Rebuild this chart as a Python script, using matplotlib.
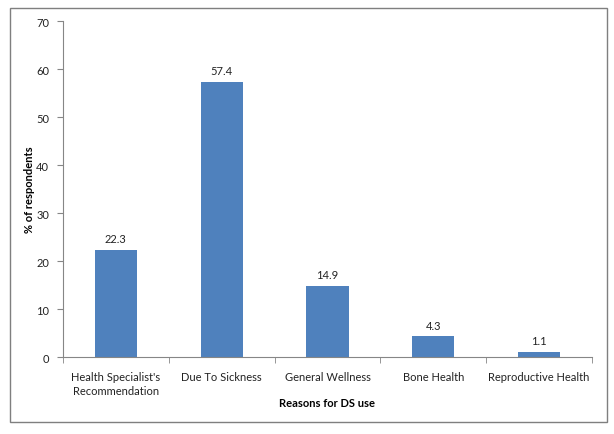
import matplotlib.pyplot as plt
from matplotlib.patches import Rectangle

# data
reasons = ["Health Specialist's\nRecommendation", "Due To Sickness", "General Wellness",
           "Bone Health", "Reproductive Health"]
percent = [22.3, 57.4, 14.9, 4.3, 1.1]

plt.rcParams['font.family'] = ['Lato', 'DejaVu Sans']
axis_col = '#868686'
fs = 8

fig = plt.figure(figsize=(6.14, 4.35), dpi=100)
fig.patches.append(Rectangle((0.0163, 0.0276), 0.972, 0.952, transform=fig.transFigure,
                             fill=False, edgecolor='#7f7f7f', linewidth=1.0))
ax = fig.add_axes([0.1026, 0.177, 0.8614, 0.772])

x = list(range(len(reasons)))
bars = ax.bar(x, percent, width=0.4, color='#4F81BD')
for b, v in zip(bars, percent):
    ax.text(b.get_x() + b.get_width() / 2, v + 1.2, f"{v}", ha='center', va='bottom',
            fontsize=fs, color='#222222')

ax.set_xlim(-0.5, len(reasons) - 0.5)
ax.set_ylim(0, 70)
ax.set_yticks(range(0, 71, 10))
ax.set_xticks(x)
ax.set_xticklabels(reasons, fontsize=fs, color='#222222', linespacing=1.3)
ax.set_xticks([i - 0.5 for i in range(len(reasons) + 1)], minor=True)
ax.tick_params(axis='x', which='major', length=0, pad=10)
ax.tick_params(axis='x', which='minor', length=4, color=axis_col, direction='out')
ax.tick_params(axis='y', length=4, color=axis_col, direction='out', labelsize=fs,
               labelcolor='#222222', pad=6)

for s in ['top', 'right']:
    ax.spines[s].set_visible(False)
for s in ['left', 'bottom']:
    ax.spines[s].set_color(axis_col)

ax.set_ylabel('% of respondents', fontsize=fs, fontweight='bold', va='center')
ax.yaxis.set_label_coords(-0.063, 0.5)
ax.set_xlabel('Reasons for DS use', fontsize=fs, fontweight='bold', va='center')
ax.xaxis.set_label_coords(0.5, -0.134)

fig.savefig('out.png', dpi=100)
